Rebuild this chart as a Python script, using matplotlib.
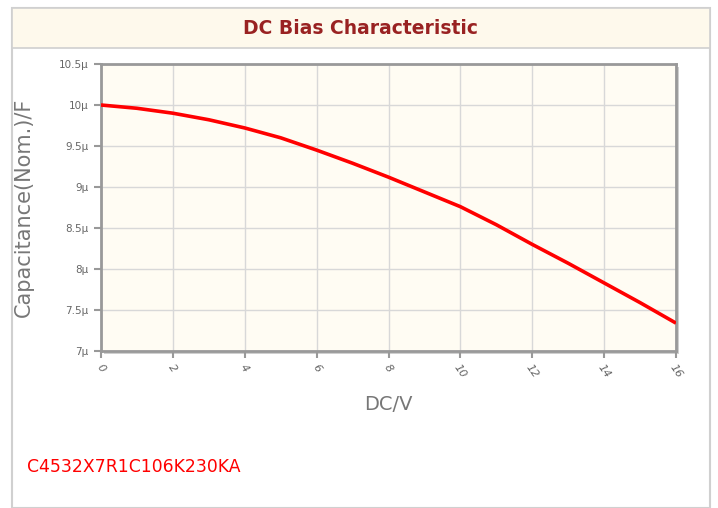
import matplotlib.pyplot as plt
from matplotlib.patches import Rectangle
from matplotlib.ticker import FuncFormatter

# DC bias curve
volts = [0, 1, 2, 3, 4, 5, 6, 7, 8, 9, 10, 11, 12, 13, 14, 15, 16]
cap_uF = [10.0, 9.96, 9.90, 9.82, 9.72, 9.60, 9.45, 9.29, 9.12,
          8.94, 8.76, 8.54, 8.30, 8.07, 7.83, 7.59, 7.34]
xticks = [0, 2, 4, 6, 8, 10, 12, 14, 16]
yticks = [7, 7.5, 8, 8.5, 9, 9.5, 10, 10.5]
part_no = "C4532X7R1C106K230KA"

fig = plt.figure(figsize=(7.18, 5.08), dpi=100)

# panel frame + title band
W, H = 718, 508
fig.patches.append(Rectangle((12 / W, 0), (710 - 12) / W, 1 - 8 / H, transform=fig.transFigure,
                             facecolor='white', edgecolor='#d0d0d0', linewidth=1.5, zorder=-2))
fig.patches.append(Rectangle((12 / W, 1 - 48 / H), (710 - 12) / W, 40 / H, transform=fig.transFigure,
                             facecolor='#fef9ec', edgecolor='#d0d0d0', linewidth=1.2, zorder=-1))
fig.text(361 / W, 1 - 28 / H, "DC Bias Characteristic", ha='center', va='center',
         fontsize=13.5, fontweight='bold', color='#992222')

# soft shadow behind the plot box
fig.patches.append(Rectangle((104 / W, 1 - 354 / H), (676 - 101) / W, (351 - 64) / H,
                             transform=fig.transFigure, facecolor='#cfcfcf',
                             edgecolor='none', zorder=1))

ax = fig.add_axes([101 / W, 1 - 351 / H, (676 - 101) / W, (351 - 64) / H])
ax.set_zorder(2)
ax.set_facecolor('#fffcf3')
ax.plot(volts, cap_uF, color='#ff0000', linewidth=2.6, solid_capstyle='butt', zorder=3)

ax.set_xlim(0, 16)
ax.set_ylim(7, 10.5)
ax.set_xticks(xticks)
ax.set_yticks(yticks)
ax.yaxis.set_major_formatter(FuncFormatter(lambda v, p: f"{v:g}\u03bc"))
ax.grid(True, color='#d8d8d8', linewidth=1)
ax.set_axisbelow(True)

for s in ax.spines.values():
    s.set_color('#999999')
    s.set_linewidth(2)
ax.tick_params(axis='both', colors='#999999', length=5, width=1.5, labelcolor='#666666')
ax.tick_params(axis='y', labelsize=7.5, pad=4)
for lbl in ax.get_xticklabels():
    lbl.set_rotation(-55)
    lbl.set_fontstyle('italic')
    lbl.set_fontsize(8)
    lbl.set_ha('center')

ax.set_xlabel("DC/V", fontsize=14, color='#777777', labelpad=11)
ax.set_ylabel("Capacitance(Nom.)/F", fontsize=15, color='#777777', labelpad=18)

fig.text(27 / W, 1 - 467 / H, part_no, ha='left', va='center', fontsize=12.4, color='#ff0000')

fig.savefig("out.png", dpi=100)
